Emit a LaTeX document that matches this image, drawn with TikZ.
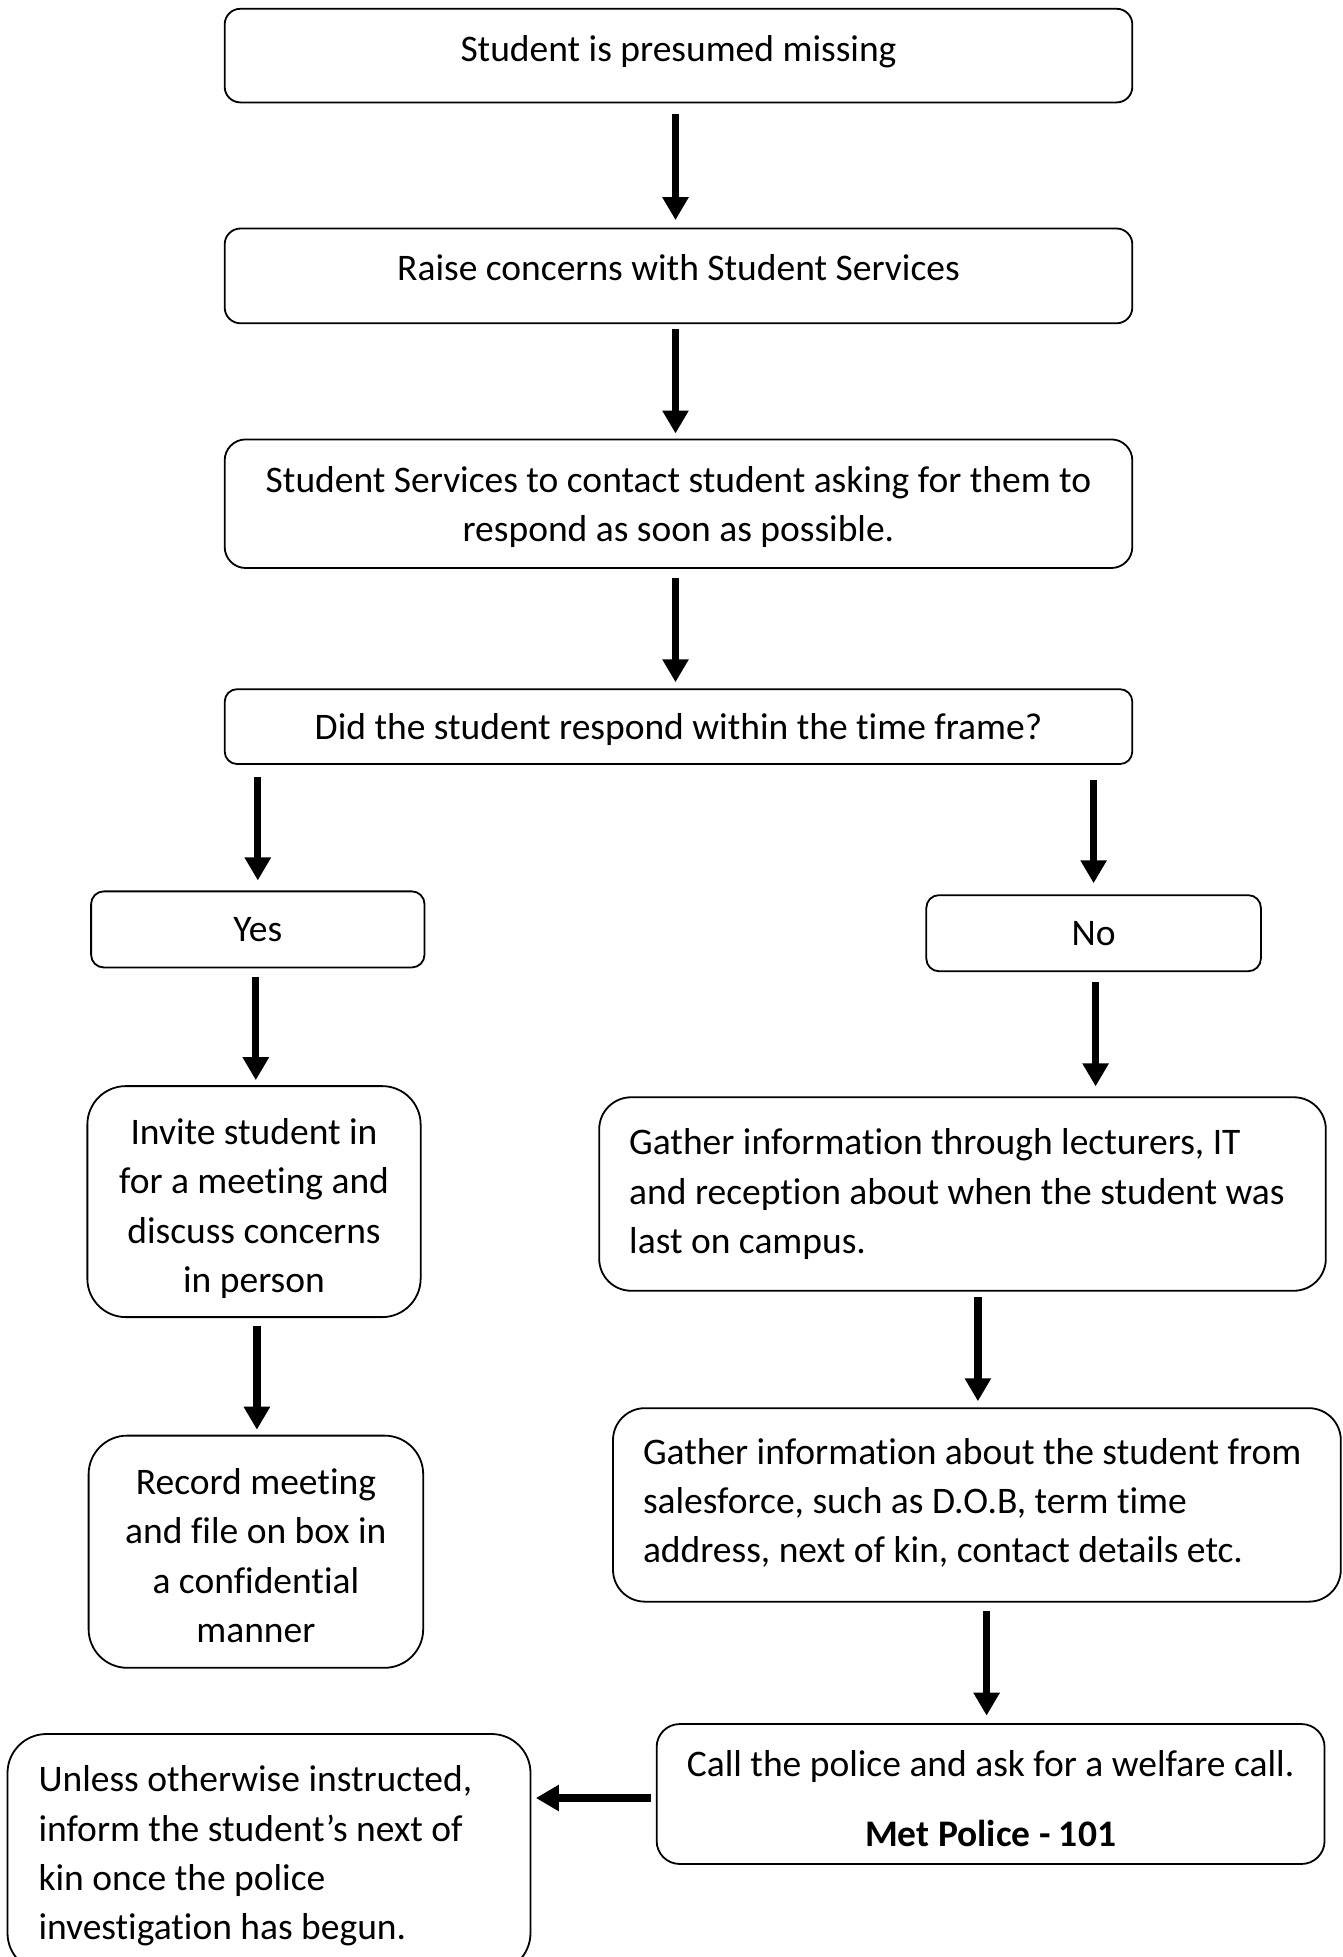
\documentclass[tikz,border=0pt]{standalone}
\usepackage{fontspec}
\setmainfont{Carlito}[Ligatures={TeX,NoCommon}]
\usetikzlibrary{arrows.meta}
\newcommand\tup[1]{\rule{0pt}{#1}}
\newcommand\tdn[1]{\rule[-#1]{0pt}{#1}}
\newcommand\nsp{\spaceskip=0pt\xspaceskip=0pt\relax}
\begin{document}
\begin{tikzpicture}[x=1pt,y=-1pt,
  txt/.style={font=\fontsize{37.5}{49.3}\selectfont},
  box/.style={draw, line width=1.8pt, rounded corners=#1, inner sep=0pt, txt, align=center},
  box/.default=12pt,
  lbox/.style={draw, line width=1.8pt, rounded corners=#1, inner xsep=30pt, inner ysep=0pt, txt, align=left},
  lbox/.default=32pt,
  flow/.style={line width=7.2pt, -{Triangle[length=23pt,width=25pt]}},
]
\useasboundingbox (0,0) rectangle (1342,1957);

\node[box=15.6pt, minimum width=907.6pt, minimum height=93.6pt, text height=26pt, text depth=15pt] (s1) at (678.5,55.6) {Student is presumed missing};
\node[box=15.8pt, minimum width=907.6pt, minimum height=94.8pt, text height=26pt, text depth=16pt] (s2) at (678.5,275.9) {Raise concerns with Student Services};
\node[box=21pt, minimum width=907.6pt, minimum height=128.6pt] (s3) at (678.5,503.7) {\tup{32pt}Student Services to contact student asking for them to\\respond as soon as possible.};
\node[box=12.5pt, minimum width=907.6pt, minimum height=74.9pt, text height=34pt, text depth=8pt] (s4) at (678.5,726.6) {Did the student respond within the time frame?};

\node[box=12.7pt, minimum width=333.4pt, minimum height=76.1pt] (yes) at (257.8,929.4) {Yes};
\node[box=12.7pt, minimum width=334.6pt, minimum height=76.1pt] (no) at (1093.6,933.2) {No};

\node[box=38.5pt, minimum width=333.3pt, minimum height=231pt] (invite) at (254,1201.6) {\tup{40pt}Invite student in\\for a meeting and\\discuss concerns\\in person};
\node[box=38.7pt, minimum width=334.6pt, minimum height=232.2pt] (record) at (255.9,1551.7) {\tup{34pt}Record meeting\\and file on box in\\a confidential\\manner};

\node[lbox=32pt, text width=666.6pt, minimum height=193.5pt] (g1) at (962.5,1194) {\nsp\mbox{\tup{47.5pt}Gather information through lecturers, IT}\\\mbox{and reception about when the student was}\\\mbox{last on campus.\tdn{27.4pt}}};
\node[lbox=32pt, text width=667.8pt, minimum height=193.5pt] (g2) at (976.9,1504.9) {\nsp\mbox{\tup{47.5pt}Gather information about the student from}\\\mbox{salesforce, such as D.O.B, term time}\\\mbox{address, next of kin, contact details etc.\tdn{30pt}}};

\node[box=23pt, minimum width=667.9pt, minimum height=139.9pt] (call) at (990.6,1794) {\tup{35pt}Call the police and ask for a welfare call.\\[20.7pt]\textbf{Met Police - 101}};

\node[lbox=39pt, inner xsep=31pt, text width=461pt, minimum height=238pt] (unless) at (269,1853) {\nsp\mbox{\tup{32pt}Unless otherwise instructed,}\\\mbox{inform the student’s next of}\\\mbox{kin once the police}\\\mbox{investigation has begun.}};

\draw[flow, shorten <=11pt, shorten >=7.5pt] ([xshift=-3pt]s1.south) -- ([xshift=-3pt]s2.north);
\draw[flow, shorten <=5pt, shorten >=5pt] ([xshift=-3pt]s2.south) -- ([xshift=-3pt]s3.north);
\draw[flow, shorten <=9pt, shorten >=6pt] ([xshift=-3pt]s3.south) -- ([xshift=-3pt]s4.north);
\draw[flow, shorten <=12.5pt, shorten >=10pt] (yes.north |- s4.south) -- (yes.north);
\draw[flow, shorten <=15pt, shorten >=11pt] (no.north |- s4.south) -- (no.north);
\draw[flow, shorten <=8.7pt, shorten >=5pt] ([xshift=-2pt]yes.south) -- ([xshift=-2pt]yes.south |- invite.north);
\draw[flow, shorten <=10pt, shorten >=10pt] ([xshift=2pt]no.south) -- ([xshift=2pt]no.south |- g1.north);
\draw[flow, shorten <=7.5pt, shorten >=5pt] ([xshift=1pt]record.north |- invite.south) -- ([xshift=1pt]record.north);
\draw[flow, shorten <=5pt, shorten >=6pt] ([xshift=1pt]g2.north |- g1.south) -- ([xshift=1pt]g2.north);
\draw[flow, shorten <=8.7pt, shorten >=7.5pt] ([xshift=-4pt]call.north |- g2.south) -- ([xshift=-4pt]call.north);
\draw[flow, shorten <=5pt, shorten >=4.5pt] ([yshift=-4pt]call.west) -- ([yshift=-4pt]call.west -| unless.east);
\end{tikzpicture}
\end{document}
